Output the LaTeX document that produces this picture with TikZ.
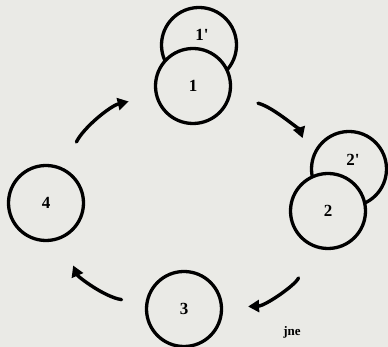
\documentclass[tikz,border=0pt]{standalone}
\usepackage{fontspec}
\setmainfont{Liberation Serif}[Ligatures=TeXOff]
\usetikzlibrary{arrows.meta}
\definecolor{paper}{RGB}{234,234,230}
\tikzset{
  ring/.style={circle, draw=black, fill=paper, line width=3.3pt, minimum size=75pt, inner sep=0pt,
    font=\fontsize{17}{17}\selectfont\bfseries},
  lab/.style={font=\fontsize{17}{17}\selectfont\bfseries, inner sep=0pt},
  flow/.style={line width=3.4pt, line cap=round, -{Triangle[length=11pt,width=12pt]}},
}
\begin{document}
\begin{tikzpicture}[x=1pt,y=1pt]
\fill[paper] (0,0) rectangle (388,347);
\useasboundingbox (0,0) rectangle (388,347);
% primed circles behind
\node[ring, label={[lab, xshift=3pt, yshift=10pt]center:1'}] (n1p) at (199,302) {};
\node[ring, label={[lab, xshift=4pt, yshift=9pt]center:2'}] (n2p) at (349,178) {};
% main circles
\node[ring] (n1) at (193,261) {1};
\node[ring] (n2) at (328,136) {2};
\node[ring] (n3) at (184,38) {3};
\node[ring] (n4) at (46,144) {4};
% arrows
\draw[flow, shorten <=29pt, shorten >=27pt] (n4) to[bend left=25] (n1);
\draw[flow, shorten <=28pt, shorten >=38pt] (n1) to[bend left=28] (n2);
\draw[flow, shorten <=34pt, shorten >=25pt] (n2) to[bend left=32] (n3);
\draw[flow, shorten <=24pt, shorten >=29pt] (n3) to[bend left=29] (n4);
% signature
\node[font=\fontsize{13}{13}\selectfont\bfseries, inner sep=0pt] (sig) at (292,15) {jne};
\end{tikzpicture}
\end{document}
